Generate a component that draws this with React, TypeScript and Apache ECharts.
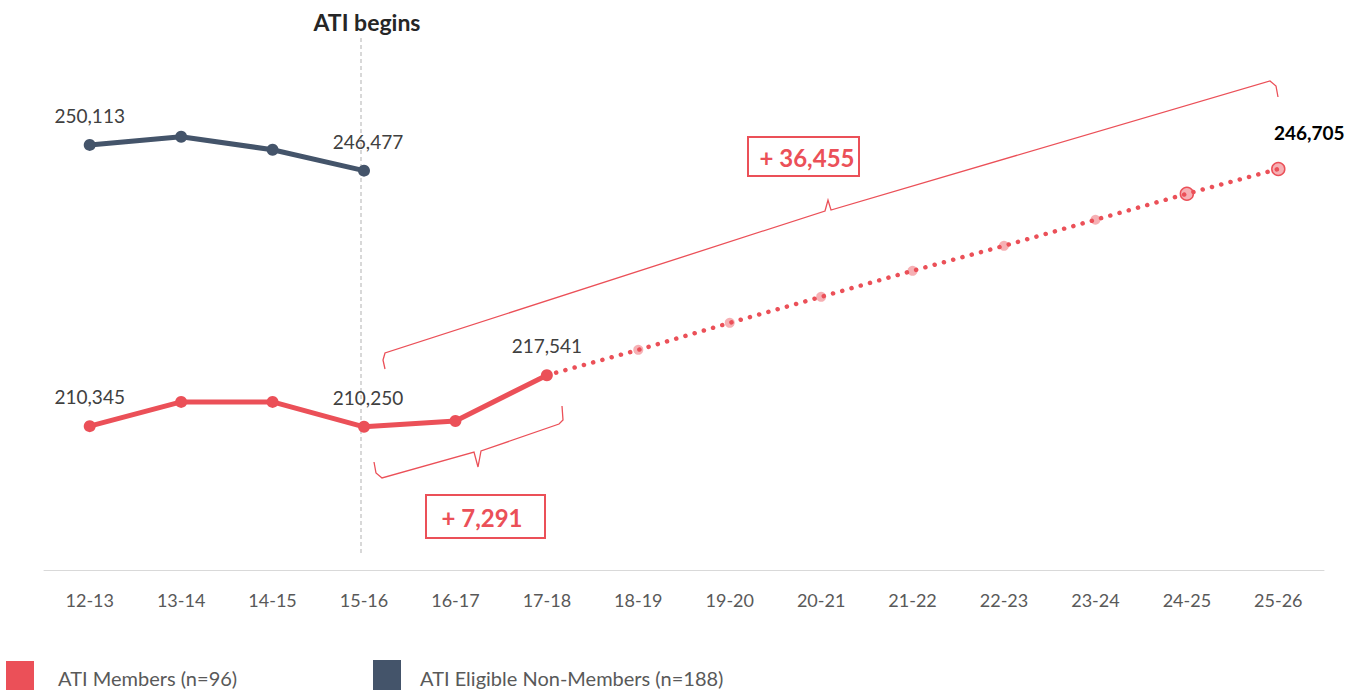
import React, { useEffect, useRef } from "react";
import * as echarts from "echarts";

const categories = ["12-13", "13-14", "14-15", "15-16", "16-17", "17-18", "18-19", "19-20", "20-21", "21-22", "22-23", "23-24", "24-25", "25-26"];
const members = [210345, 213770, 213770, 210250, 211080, 217541, null, null, null, null, null, null, null, null];
const projected = [null, null, null, null, null, 217541, 221130, 224950, 228630, 232310, 235846, 239525, 243204, 246705];
const nonMembers = [250113, 251270, 249430, 246477, null, null, null, null, null, null, null, null, null, null];
const legendNames = ["ATI Members (n=96)", "ATI Eligible Non-Members (n=188)"];
const annotations = ["+ 36,455", "+ 7,291"];

const RED = "#EB5058";
const NAVY = "#44546A";
const FONT = "Lato, 'Open Sans', sans-serif";

export default function App() {
  const ref = useRef<HTMLDivElement>(null);
  useEffect(() => {
    if (!ref.current) return;
    const chart = echarts.init(ref.current, null, { renderer: "svg" });
    const fmt = (v: number) => v.toLocaleString("en-US");
    const mkLabeled = (arr: (number | null)[], idxs: number[], extra: any = {}) =>
      arr.map((v, i) =>
        v == null
          ? "-"
          : idxs.includes(i)
          ? { value: v, label: { show: true, position: "top", distance: 14, formatter: fmt(v), color: "#404040", fontSize: 19, fontFamily: FONT, ...(extra[i] || {}) } }
          : v
      );
    const projData = projected.map((v, i) => {
      if (v == null) return "-";
      if (i === 5) return { value: v, symbol: "none" };
      if (i === 13)
        return {
          value: v,
          symbolSize: 13,
          itemStyle: { color: "rgba(235,80,88,0.45)", borderColor: RED, borderWidth: 1.5 },
          label: { show: true, position: "top", distance: 14, offset: [31, -6], formatter: fmt(v), color: "#000", fontWeight: "bold", fontSize: 19, fontFamily: FONT },
        };
      if (i === 12)
        return { value: v, symbolSize: 13, itemStyle: { color: "rgba(235,80,88,0.45)", borderColor: RED, borderWidth: 1.5 } };
      return v;
    });
    const option: any = {
      animation: false,
      grid: { left: 44, right: 25, top: 75, bottom: 120, containLabel: false },
      xAxis: {
        type: "category",
        data: categories,
        boundaryGap: true,
        axisLine: { lineStyle: { color: "#D9D9D9", width: 1 } },
        axisTick: { show: false },
        axisLabel: { color: "#595959", fontSize: 18, fontFamily: FONT, margin: 21 },
      },
      yAxis: { type: "value", min: 190000, max: 260000, show: false, splitLine: { show: false } },
      series: [
        {
          name: legendNames[1],
          type: "line",
          data: mkLabeled(nonMembers, [0, 3], { 3: { offset: [4, 0] } }),
          symbol: "circle",
          symbolSize: 12,
          lineStyle: { color: NAVY, width: 5 },
          itemStyle: { color: NAVY },
          z: 3,
        },
        {
          name: "projected",
          type: "line",
          data: projData,
          symbol: "circle",
          symbolSize: 10,
          showSymbol: true,
          lineStyle: { color: RED, width: 4.5, type: [0.1, 9.5], cap: "round" },
          itemStyle: { color: "rgba(235,80,88,0.45)" },
          z: 2,
        },
        {
          name: legendNames[0],
          type: "line",
          data: mkLabeled(members, [0, 3, 5], { 3: { offset: [4, 0] } }),
          symbol: "circle",
          symbolSize: 12,
          lineStyle: { color: RED, width: 5 },
          itemStyle: { color: RED },
          z: 4,
        },
      ],
      graphic: [
        { type: "line", shape: { x1: 361, y1: 38, x2: 361, y2: 555 }, style: { stroke: "#BFBFBF", lineWidth: 1.2, lineDash: [4, 3] } },
        { type: "text", x: 367, y: 22, style: { text: "ATI begins", fill: "#262626", font: `bold 23px ${FONT}`, textAlign: "center", textVerticalAlign: "middle" } },
        {
          type: "polyline",
          shape: { points: [[385, 369], [383, 360], [385, 353], [825, 211], [828, 200], [831, 210], [1270, 81], [1276, 86], [1278, 97]] },
          style: { stroke: RED, lineWidth: 1.3, fill: null },
        },
        {
          type: "polyline",
          shape: { points: [[374, 462], [376, 473], [382, 478], [474, 452], [478, 467], [481, 451], [559, 424], [563, 420], [562, 406]] },
          style: { stroke: RED, lineWidth: 1.3, fill: null },
        },
        { type: "rect", shape: { x: 748, y: 137, width: 111, height: 39 }, style: { stroke: RED, lineWidth: 2, fill: "#fff" } },
        { type: "text", x: 807, y: 157, style: { text: annotations[0], fill: RED, font: `bold 24px ${FONT}`, textAlign: "center", textVerticalAlign: "middle" } },
        { type: "rect", shape: { x: 426, y: 495, width: 119, height: 43 }, style: { stroke: RED, lineWidth: 2, fill: "#fff" } },
        { type: "text", x: 482, y: 517, style: { text: annotations[1], fill: RED, font: `bold 24px ${FONT}`, textAlign: "center", textVerticalAlign: "middle" } },
        { type: "rect", shape: { x: 6, y: 661, width: 28, height: 30 }, style: { fill: RED } },
        { type: "text", x: 58, y: 678, style: { text: legendNames[0], fill: "#595959", font: `20px ${FONT}`, textAlign: "left", textVerticalAlign: "middle" } },
        { type: "rect", shape: { x: 373, y: 660, width: 28, height: 30 }, style: { fill: "#44546A" } },
        { type: "text", x: 420, y: 678, style: { text: legendNames[1], fill: "#595959", font: `20px ${FONT}`, textAlign: "left", textVerticalAlign: "middle" } },
      ],
    };
    chart.setOption(option);
    return () => chart.dispose();
  }, []);
  return <div ref={ref} style={{ width: 1349, height: 690, position: "absolute", left: 0, top: 0 }} />;
}
